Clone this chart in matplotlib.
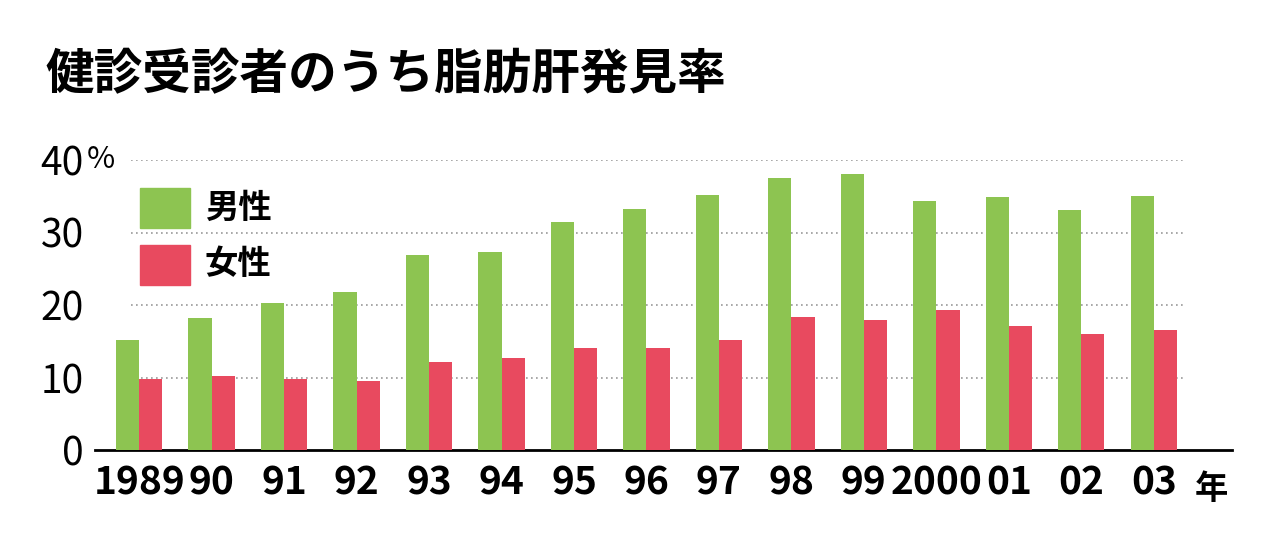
import matplotlib
matplotlib.use("Agg")
import matplotlib.pyplot as plt
from matplotlib.patches import Rectangle

years = ["1989", "90", "91", "92", "93", "94", "95", "96", "97", "98", "99", "2000", "01", "02", "03"]
male = [15.2, 18.2, 20.3, 21.8, 26.9, 27.3, 31.4, 33.2, 35.2, 37.5, 38.1, 34.3, 34.9, 33.1, 35.0]
female = [9.8, 10.2, 9.8, 9.5, 12.1, 12.7, 14.1, 14.1, 15.2, 18.3, 17.9, 19.3, 17.1, 16.0, 16.6]
yticks = [0, 10, 20, 30, 40]

GREEN = "#8dc451"
RED = "#e84a5f"
plt.rcParams["font.family"] = ["Liberation Sans Narrow", "Noto Sans CJK JP", "DejaVu Sans"]

fig = plt.figure(figsize=(12.8, 5.42), dpi=100)
ax = fig.add_axes([95/1280, 1-450/542, (1232-95)/1280, (450-160)/542])
x = list(range(len(years)))
w = 0.32
ax.bar([i - w/2 for i in x], male, width=w, color=GREEN, zorder=3)
ax.bar([i + w/2 for i in x], female, width=w, color=RED, zorder=3)
ax.set_xlim(-0.61, 15.08)
ax.set_ylim(0, 40)
for v in yticks[1:]:
    ax.plot([-0.12, 14.45], [v, v], color="#999999", ls=(0, (1, 2)), lw=1.2, zorder=1)
for s in ["top", "right", "left"]:
    ax.spines[s].set_visible(False)
ax.spines["bottom"].set_linewidth(2)
ax.tick_params(length=0)
ax.set_yticks(yticks)
ax.set_yticklabels([str(v) for v in yticks], fontsize=28)
ax.tick_params(axis="y", pad=8)
ax.set_xticks(x)
ax.set_xticklabels(years, fontsize=28, fontweight="bold")
ax.tick_params(axis="x", pad=10)
ax.text(-0.72, 40, "%", fontsize=22, va="center", ha="left", transform=ax.transData)
ax.text(14.8, -5.5, "年", fontsize=24, ha="center", va="center", fontfamily="Noto Sans CJK JP", fontweight="bold")

fig.text(45/1280, 1-75/542, "健診受診者のうち脂肪肝発見率", fontsize=35, fontfamily="Noto Sans CJK JP",
         fontweight="bold", va="center", ha="left")
fig.patches.append(Rectangle((140/1280, 1-228/542), 50/1280, 40/542, color=GREEN, transform=fig.transFigure))
fig.patches.append(Rectangle((140/1280, 1-285/542), 50/1280, 40/542, color=RED, transform=fig.transFigure))
fig.text(205/1280, 1-208/542, "男性", fontsize=24, fontfamily="Noto Sans CJK JP", fontweight="bold", va="center")
fig.text(205/1280, 1-265/542, "女性", fontsize=24, fontfamily="Noto Sans CJK JP", fontweight="bold", va="center")
fig.savefig("out.png", dpi=100)
